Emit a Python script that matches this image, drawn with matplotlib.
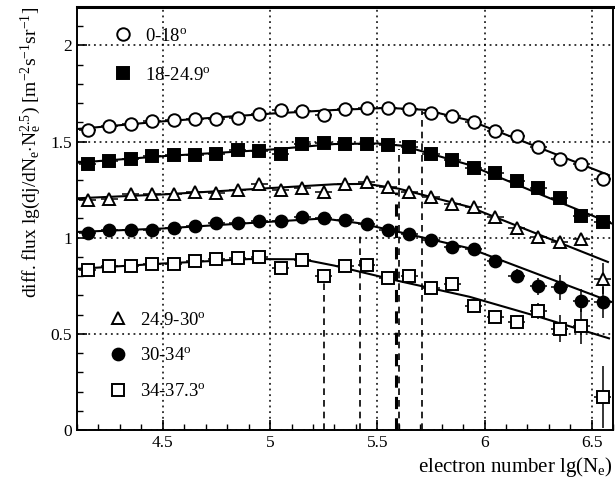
import numpy as np
import matplotlib
matplotlib.use("Agg")
import matplotlib.pyplot as plt
from matplotlib.ticker import MultipleLocator

plt.rcParams["font.family"] = ["Liberation Serif", "DejaVu Serif"]
plt.rcParams["mathtext.fontset"] = "custom"
plt.rcParams["mathtext.rm"] = "Liberation Serif"
plt.rcParams["mathtext.it"] = "Liberation Serif:italic"

# lg(Ne) bin centres
lg_ne = np.arange(4.15, 6.56, 0.1)

labels = ["0-18$^{\\mathrm{o}}$", "18-24.9$^{\\mathrm{o}}$", "24.9-30$^{\\mathrm{o}}$",
          "30-34$^{\\mathrm{o}}$", "34-37.3$^{\\mathrm{o}}$"]

flux_0_18 = [1.562, 1.581, 1.593, 1.607, 1.614, 1.619, 1.619, 1.624, 1.645, 1.662, 1.660, 1.638, 1.668,
             1.676, 1.672, 1.668, 1.649, 1.633, 1.602, 1.554, 1.528, 1.472, 1.411, 1.385, 1.307]
flux_18_25 = [1.385, 1.399, 1.411, 1.423, 1.429, 1.429, 1.434, 1.457, 1.452, 1.434, 1.488, 1.492, 1.486,
              1.486, 1.481, 1.472, 1.437, 1.403, 1.365, 1.334, 1.297, 1.260, 1.208, 1.111, 1.084]
flux_25_30 = [1.195, 1.200, 1.226, 1.226, 1.226, 1.238, 1.233, 1.250, 1.278, 1.247, 1.257, 1.237, 1.281,
              1.290, 1.264, 1.238, 1.212, 1.177, 1.158, 1.110, 1.048, 1.002, 0.976, 0.993, 0.788]
flux_30_34 = [1.027, 1.039, 1.039, 1.042, 1.053, 1.061, 1.074, 1.077, 1.086, 1.086, 1.108, 1.100, 1.091,
              1.070, 1.042, 1.018, 0.990, 0.950, 0.940, 0.880, 0.803, 0.748, 0.742, 0.673, 0.665]
flux_34_37 = [0.831, 0.854, 0.854, 0.866, 0.861, 0.880, 0.892, 0.895, 0.902, 0.844, 0.883, 0.803, 0.853,
              0.857, 0.792, 0.802, 0.738, 0.758, 0.644, 0.590, 0.564, 0.620, 0.527, 0.540, 0.172]

# vertical errors (mostly hidden by markers)
err_0_18 = [0.01] * 22 + [0.015, 0.02, 0.025]
err_18_25 = [0.01] * 21 + [0.015, 0.02, 0.03, 0.03]
err_25_30 = [0.01] * 20 + [0.02, 0.02, 0.025, 0.03, 0.08]
err_30_34 = [0.01] * 18 + [0.015, 0.025, 0.035, 0.045, 0.065, 0.06, 0.08]
err_34_37 = [0.01] * 11 + [0.03] + [0.015] * 6 + [0.02, 0.025, 0.035, 0.04, 0.07, 0.09, 0.16]

# fit curves, read at a few lg(Ne) values
fit_x_0_18 = [4.1, 4.5, 5.0, 5.3, 5.55, 5.72, 5.93, 6.25, 6.58]
fit_y_0_18 = [1.565, 1.605, 1.645, 1.664, 1.675, 1.665, 1.61, 1.47, 1.325]
fit_x_18_25 = [4.1, 4.5, 5.0, 5.3, 5.5, 5.62, 5.93, 6.25, 6.59]
fit_y_18_25 = [1.39, 1.424, 1.458, 1.487, 1.49, 1.478, 1.378, 1.23, 1.075]
fit_x_25_30 = [4.1, 4.5, 5.0, 5.3, 5.45, 5.6, 5.93, 6.25, 6.575]
fit_y_25_30 = [1.205, 1.225, 1.258, 1.278, 1.28, 1.255, 1.16, 1.018, 0.874]
fit_x_30_34 = [4.1, 4.5, 5.0, 5.25, 5.42, 5.6, 5.93, 6.25, 6.59]
fit_y_30_34 = [1.03, 1.048, 1.083, 1.10, 1.075, 1.03, 0.945, 0.81, 0.667]
fit_x_34_37 = [4.1, 4.5, 4.9, 5.15, 5.3, 5.6, 5.93, 6.25, 6.58]
fit_y_34_37 = [0.838, 0.866, 0.889, 0.888, 0.855, 0.775, 0.693, 0.59, 0.477]

# knee positions (dashed lines) and where they start
knee_x = [5.71, 5.60, 5.585, 5.42, 5.25]
knee_top = [1.66, 1.46, 1.24, 1.03, 0.77]
knee_lw = [1.2, 1.2, 2.2, 1.2, 1.2]

series = [
    (flux_0_18, err_0_18, fit_x_0_18, fit_y_0_18, dict(marker="o", mfc="white", ms=9)),
    (flux_18_25, err_18_25, fit_x_18_25, fit_y_18_25, dict(marker="s", mfc="black", ms=8.5)),
    (flux_25_30, err_25_30, fit_x_25_30, fit_y_25_30, dict(marker="^", mfc="white", ms=9)),
    (flux_30_34, err_30_34, fit_x_30_34, fit_y_30_34, dict(marker="o", mfc="black", ms=8.5)),
    (flux_34_37, err_34_37, fit_x_34_37, fit_y_34_37, dict(marker="s", mfc="white", ms=9)),
]

fig = plt.figure(figsize=(6.15, 4.91), dpi=100)
ax = fig.add_axes([0.1252, 0.124, 0.872, 0.862])

for kx, kt, klw in zip(knee_x, knee_top, knee_lw):
    ax.vlines(kx, 0, kt, colors="black", linestyles=(0, (4, 3)), linewidth=klw, zorder=1)

handles = []
for i, (y, yerr, fx, fy, mstyle) in enumerate(series):
    ax.plot(fx, fy, color="black", linewidth=1.5, zorder=2)
    ax.errorbar(lg_ne, y, yerr=yerr, xerr=0.04, fmt="none", ecolor="black", elinewidth=1.1, zorder=3)
    h, = ax.plot(lg_ne, y, linestyle="none", mec="black", mew=1.4, label=labels[i], zorder=4, **mstyle)
    handles.append(h)

ax.set_xlim(4.1, 6.6)
ax.set_ylim(0, 2.2)
ax.xaxis.set_major_locator(MultipleLocator(0.5))
ax.xaxis.set_minor_locator(MultipleLocator(0.1))
ax.yaxis.set_major_locator(MultipleLocator(0.5))
ax.yaxis.set_minor_locator(MultipleLocator(0.1))
ax.xaxis.set_major_formatter(plt.FuncFormatter(lambda v, p: f"{v:g}"))
ax.yaxis.set_major_formatter(plt.FuncFormatter(lambda v, p: f"{v:g}"))
ax.tick_params(which="both", direction="in", top=False, right=False, labelsize=12.5, colors="black")
ax.tick_params(which="major", length=7, width=1.2)
ax.tick_params(which="minor", length=4, width=1.0)
ax.grid(True, which="major", linestyle=(0, (1.2, 2.5)), color="black", linewidth=1.1)
ax.set_axisbelow(True)
for s in ax.spines.values():
    s.set_linewidth(1.4)
ax.spines["top"].set_linewidth(2.2)

ax.set_xlabel("electron number lg(N$_\\mathrm{e}$)", fontsize=15, loc="right", labelpad=3)
ax.set_ylabel("diff. flux lg(dj/dN$_\\mathrm{e}$$\\cdot$N$_\\mathrm{e}^{2.5}$) [m$^{-2}$s$^{-1}$sr$^{-1}$]",
              fontsize=14, loc="top", labelpad=5)

leg1 = ax.legend(handles=handles[:2], loc="upper left", bbox_to_anchor=(0.055, 0.968), frameon=False,
                 fontsize=13.5, handlelength=1.0, handletextpad=0.65, labelspacing=1.15, borderaxespad=0)
ax.add_artist(leg1)
ax.legend(handles=handles[2:], loc="upper left", bbox_to_anchor=(0.045, 0.298), frameon=False,
          fontsize=13.5, handlelength=1.0, handletextpad=0.65, labelspacing=1.0, borderaxespad=0)

plt.savefig("out.png", dpi=100)
